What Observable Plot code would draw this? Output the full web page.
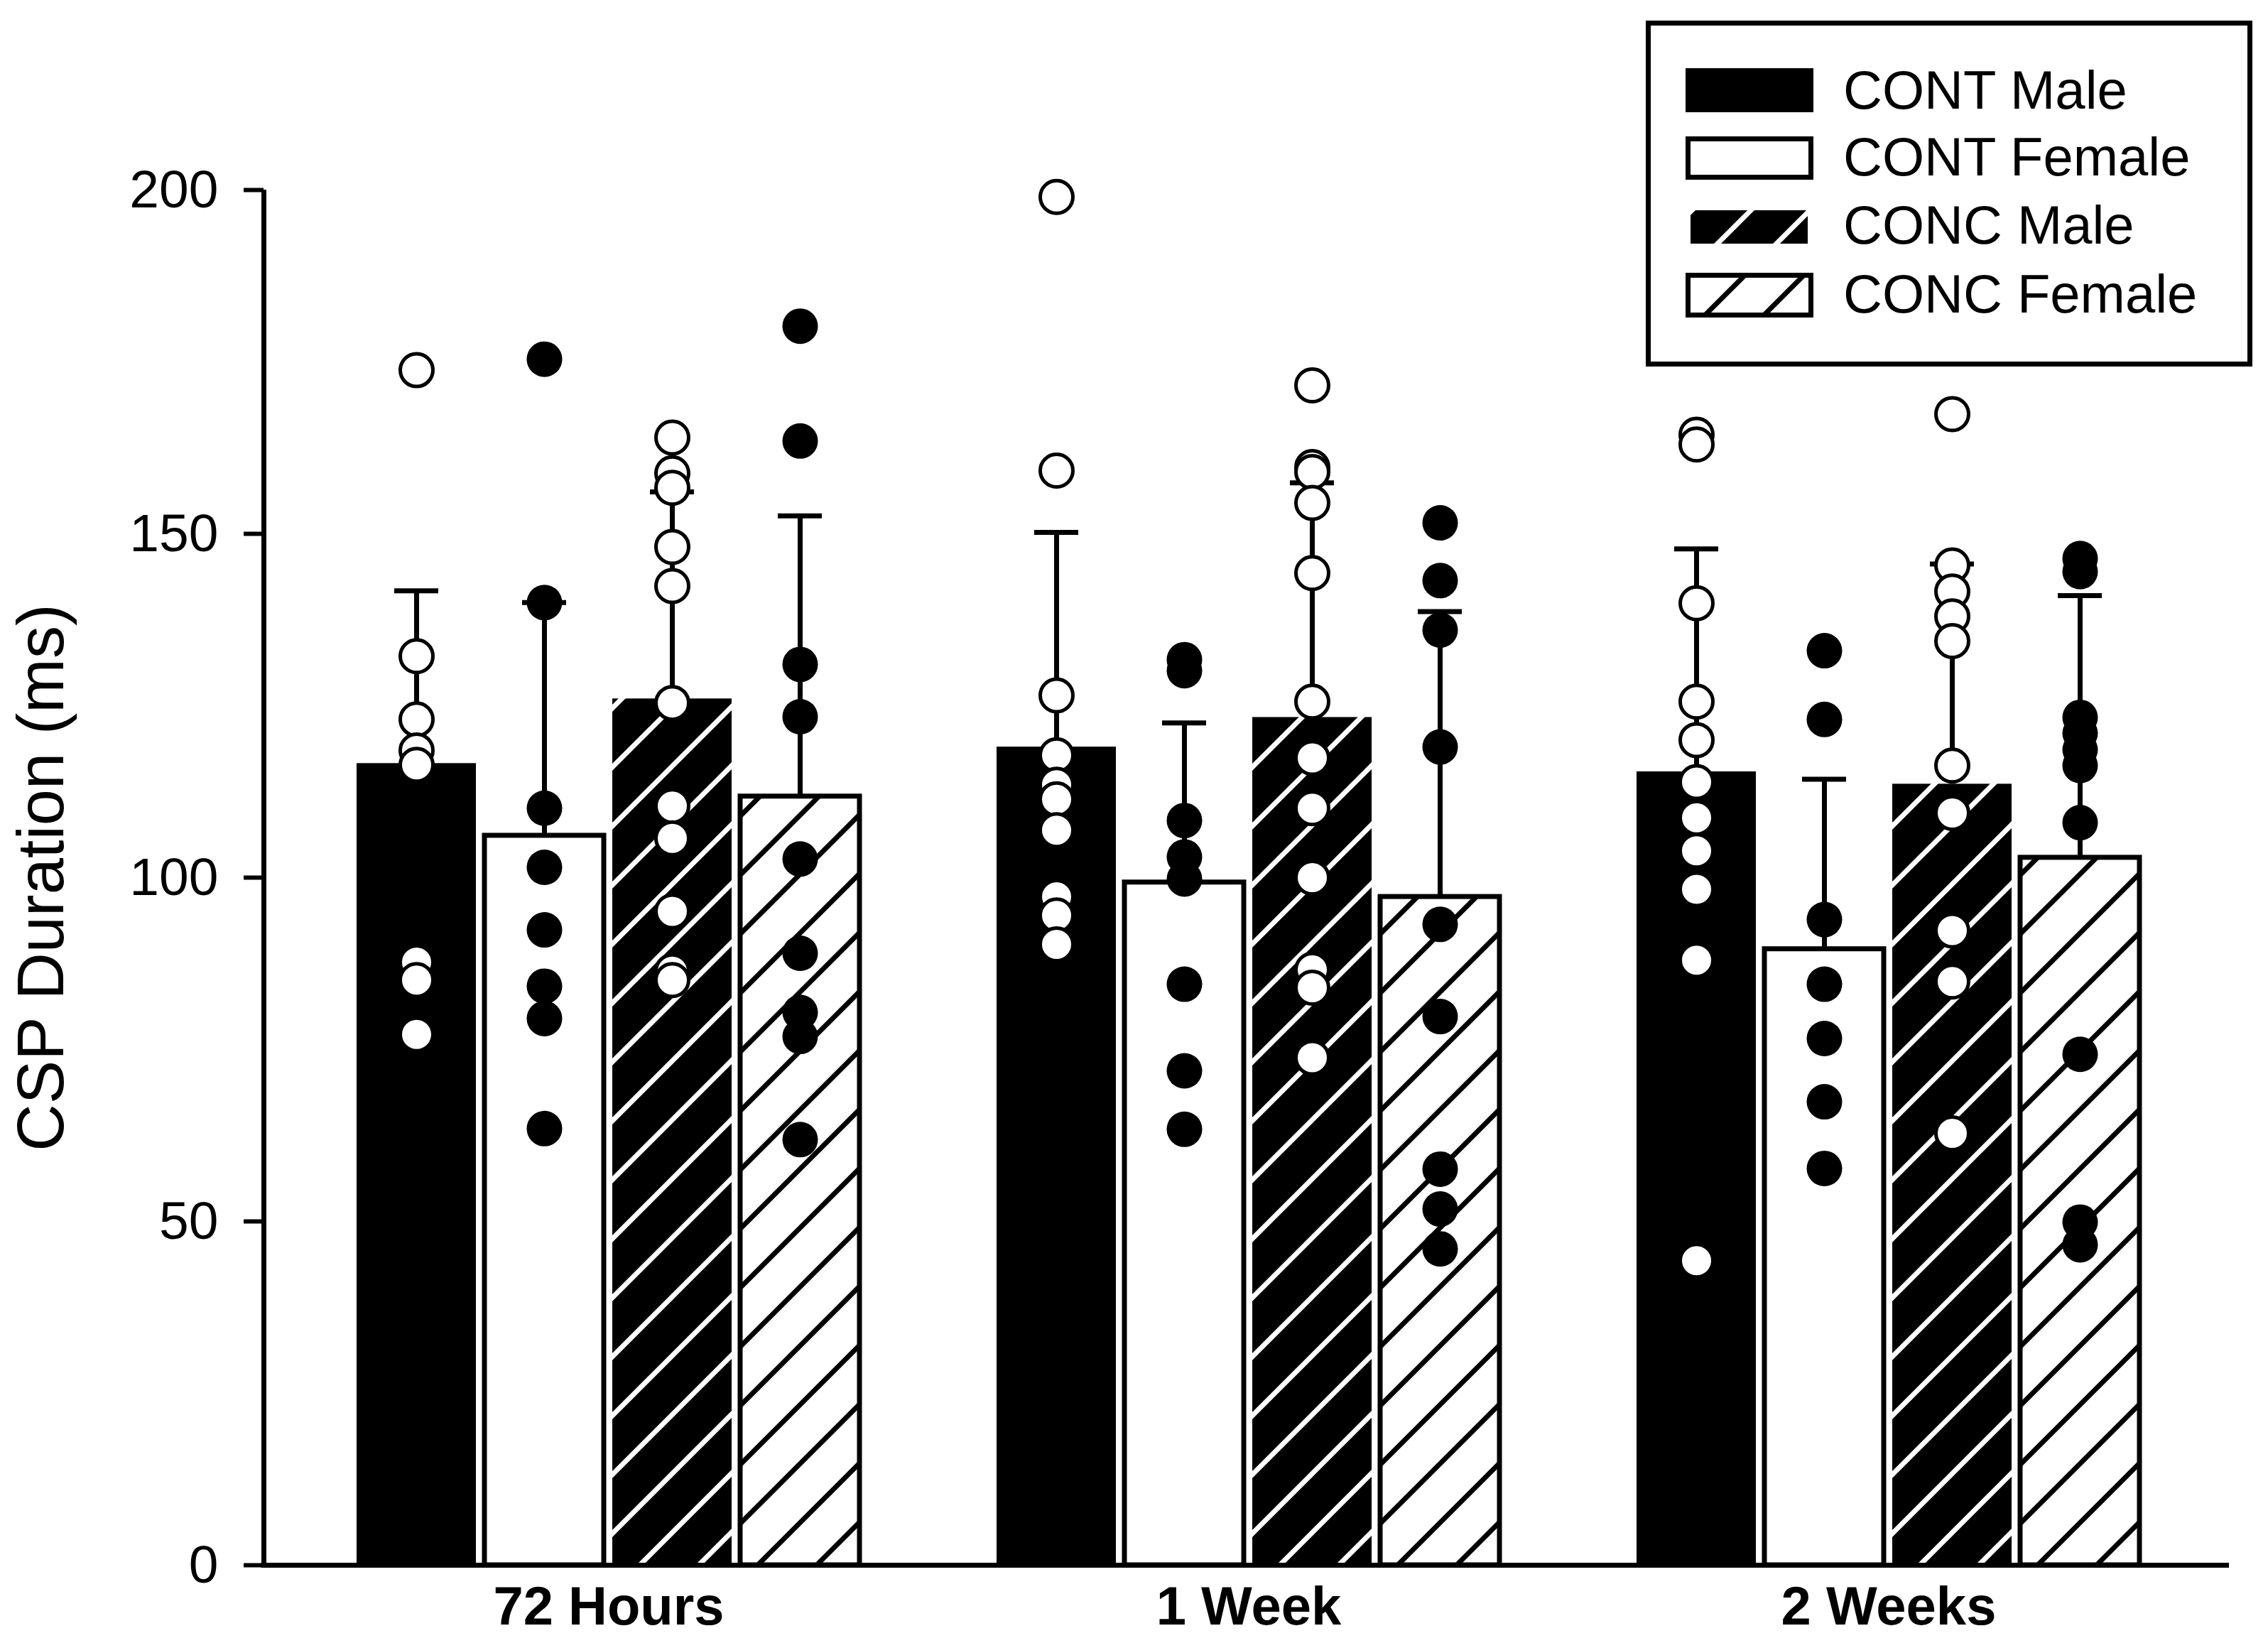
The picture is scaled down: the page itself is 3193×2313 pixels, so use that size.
<!DOCTYPE html>
<html>
<head>
<meta charset="utf-8">
<script src="https://cdn.jsdelivr.net/npm/d3@7"></script>
<script src="https://cdn.jsdelivr.net/npm/@observablehq/plot@0.6"></script>
<style>
  html, body { margin: 0; padding: 0; background: #fff; overflow: hidden; }
  #wrap { position: relative; width: 3193px; height: 2313px; font-family: "Liberation Sans", Arial, sans-serif; }
  #wrap > svg { position: absolute; left: 0; top: 0; }
</style>
</head>
<body>
<svg width="0" height="0" style="position:absolute;left:0;top:0">
  <defs>
    <pattern id="hatchOnBlack" patternUnits="userSpaceOnUse" width="83" height="83">
      <rect width="83" height="83" fill="#000"/>
      <path d="M-21,21 L21,-21 M0,83 L83,0 M62,104 L104,62" stroke="#fff" stroke-width="7"/>
    </pattern>
    <pattern id="hatchOnWhite" patternUnits="userSpaceOnUse" width="83" height="83">
      <rect width="83" height="83" fill="#fff"/>
      <path d="M-21,21 L21,-21 M0,83 L83,0 M62,104 L104,62" stroke="#000" stroke-width="7"/>
    </pattern>
  </defs>
</svg>
<div id="wrap"></div>
<script>
// ---------- data ----------
const timepoints = ["72 Hours", "1 Week", "2 Weeks"];
const groups = ["CONT Male", "CONT Female", "CONC Male", "CONC Female"];
const yTicks = [0, 50, 100, 150, 200];
const yLabel = "CSP Duration (ms)";

const meanContMale = [116.6, 119.0, 115.4];
const meanContFemale = [106.1, 99.3, 89.6];
const meanConcMale = [126.0, 123.3, 113.6];
const meanConcFemale = [111.8, 97.2, 102.9];

const sdContMale = [25.1, 31.2, 32.4];
const sdContFemale = [33.9, 23.2, 24.7];
const sdConcMale = [30.1, 34.1, 32.0];
const sdConcFemale = [40.8, 41.5, 38.1];

const contMale72h = [173.8, 132.2, 123.0, 118.5, 116.4, 87.7, 85.1, 77.2];
const contMale1wk = [199.0, 159.2, 126.5, 117.8, 113.5, 111.4, 106.9, 97.2, 94.5, 90.3];
const contMale2wk = [164.4, 163.0, 139.9, 125.6, 120.0, 113.9, 108.7, 103.9, 98.3, 88.0, 44.3];

const contFemale72h = [175.4, 140.0, 110.1, 101.5, 92.4, 84.2, 79.5, 63.5];
const contFemale1wk = [131.7, 130.1, 108.3, 103.0, 99.8, 84.5, 71.9, 63.4];
const contFemale2wk = [133.0, 123.0, 93.9, 84.5, 76.6, 67.4, 57.7];

const concMale72h = [164.0, 158.8, 156.7, 148.1, 142.4, 125.4, 110.4, 105.7, 95.1, 86.4, 85.1];
const concMale1wk = [171.6, 159.7, 159.0, 154.5, 144.3, 125.6, 117.4, 110.1, 100.0, 86.6, 84.0, 73.8];
const concMale2wk = [167.4, 145.4, 141.6, 138.0, 134.4, 116.3, 109.4, 92.3, 84.9, 62.8];

const concFemale72h = [180.2, 163.5, 131.0, 123.4, 102.7, 89.0, 80.4, 76.9, 61.9];
const concFemale1wk = [151.6, 143.2, 136.0, 119.0, 93.2, 79.8, 57.6, 51.8, 46.0];
const concFemale2wk = [146.4, 144.5, 123.3, 121.0, 118.6, 116.3, 108.0, 74.3, 49.9, 46.6];

// ---------- tables ----------
const meansBy = [meanContMale, meanContFemale, meanConcMale, meanConcFemale];
const sdsBy = [sdContMale, sdContFemale, sdConcMale, sdConcFemale];
const dotsBy = [
  [contMale72h, contMale1wk, contMale2wk],
  [contFemale72h, contFemale1wk, contFemale2wk],
  [concMale72h, concMale1wk, concMale2wk],
  [concFemale72h, concFemale1wk, concFemale2wk]
];

const bars = [];
const points = [];
timepoints.forEach((t, i) => {
  groups.forEach((g, j) => {
    const m = meansBy[j][i];
    bars.push({time: t, group: g, mean: m, top: m + sdsBy[j][i]});
    dotsBy[j][i].forEach(v => points.push({time: t, group: g, value: v}));
  });
});
const isMale = d => d.group.endsWith("Male") && !d.group.endsWith("Female");

// ---------- layout ----------
const W = 3193, H = 2313;
const M = {marginLeft: 371, marginRight: 55, marginTop: 267, marginBottom: 110};
const FONT = '"Liberation Sans", Arial, sans-serif';

const barsPlot = Plot.plot({
  width: W, height: H, ...M,
  style: {background: "none", fontFamily: FONT, maxWidth: "none"},
  fx: {domain: timepoints, paddingInner: 0.18, paddingOuter: 0.1255, align: 0.515, label: null},
  x: {domain: groups, paddingInner: 0.066, paddingOuter: 0.075, axis: null},
  y: {domain: [0, 200], axis: null},
  marks: [
    Plot.barY(bars, {filter: d => d.group === "CONT Male", fx: "time", x: "group", y1: 0, y2: "mean", fill: "black"}),
    Plot.barY(bars, {filter: d => d.group === "CONT Female", fx: "time", x: "group", y1: 0, y2: "mean", fill: "white", stroke: "black", strokeWidth: 7}),
    Plot.barY(bars, {filter: d => d.group === "CONC Male", fx: "time", x: "group", y1: 0, y2: "mean", fill: "url(#hatchOnBlack)"}),
    Plot.barY(bars, {filter: d => d.group === "CONC Female", fx: "time", x: "group", y1: 0, y2: "mean", fill: "url(#hatchOnWhite)", stroke: "black", strokeWidth: 7}),
    Plot.ruleX(bars, {fx: "time", x: "group", y1: "mean", y2: "top", stroke: "black", strokeWidth: 7}),
    Plot.tickY(bars, {fx: "time", x: "group", y: "top", stroke: "black", strokeWidth: 7, inset: 53}),
    Plot.dot(points, {filter: d => isMale(d), fx: "time", x: "group", y: "value", r: 23, fill: "white", stroke: "black", strokeWidth: 5}),
    Plot.dot(points, {filter: d => !isMale(d), fx: "time", x: "group", y: "value", r: 25, fill: "black", stroke: "none"}),
    Plot.axisFx({anchor: "bottom", tickSize: 0, tickPadding: 30, fontSize: 76, fontWeight: "bold", fill: "black", label: null})
  ]
});

const axesPlot = Plot.plot({
  width: W, height: H, ...M,
  style: {background: "none", fontFamily: FONT, maxWidth: "none"},
  x: {type: "linear", domain: [0, 1], axis: null},
  y: {domain: [0, 200]},
  marks: [
    Plot.axisY({ticks: yTicks, anchor: "left", tickSize: 28, tickPadding: 36, fontSize: 75, strokeWidth: 6, stroke: "black", fill: "black", tickFormat: d => String(d), label: null}),
    Plot.ruleX([0], {stroke: "black", strokeWidth: 7}),
    Plot.ruleY([0], {stroke: "black", strokeWidth: 7, insetLeft: -3.5}),
    Plot.text([yLabel], {text: d => d, frameAnchor: "left", textAnchor: "middle", lineAnchor: "middle", rotate: -90, dx: -312, fontSize: 92, fill: "black"})
  ]
});

const wrap = document.getElementById("wrap");
wrap.appendChild(barsPlot);
wrap.appendChild(axesPlot);

// ---------- legend ----------
const legendItems = groups;
const swatches = [
  {x: 56, y: 67, w: 180, h: 62, fill: "#000", stroke: "none"},
  {x: 59.5, y: 166.5, w: 173, h: 54, fill: "#fff", stroke: "#000"},
  {x: 63, y: 267, w: 165, h: 47, fill: "url(#hatchOnBlack)", stroke: "none"},
  {x: 59.5, y: 358.5, w: 173, h: 56, fill: "url(#hatchOnWhite)", stroke: "#000"}
];
const baselines = [124, 218, 314, 411];
const NS = "http://www.w3.org/2000/svg";
const leg = document.createElementNS(NS, "svg");
leg.setAttribute("width", 854);
leg.setAttribute("height", 487);
leg.style.left = "2317px";
leg.style.top = "29px";
const frame = document.createElementNS(NS, "rect");
frame.setAttribute("x", 3.5); frame.setAttribute("y", 3.5);
frame.setAttribute("width", 847); frame.setAttribute("height", 480);
frame.setAttribute("fill", "#fff"); frame.setAttribute("stroke", "#000"); frame.setAttribute("stroke-width", 7);
leg.appendChild(frame);
legendItems.forEach((name, i) => {
  const s = swatches[i];
  const r = document.createElementNS(NS, "rect");
  r.setAttribute("x", s.x); r.setAttribute("y", s.y);
  r.setAttribute("width", s.w); r.setAttribute("height", s.h);
  r.setAttribute("fill", s.fill); r.setAttribute("stroke", s.stroke); r.setAttribute("stroke-width", 7);
  leg.appendChild(r);
  const t = document.createElementNS(NS, "text");
  t.setAttribute("x", 278); t.setAttribute("y", baselines[i]);
  t.setAttribute("font-size", 76);
  t.setAttribute("font-family", FONT);
  t.setAttribute("fill", "#000");
  t.textContent = name;
  leg.appendChild(t);
});
wrap.appendChild(leg);
</script>
</body>
</html>
